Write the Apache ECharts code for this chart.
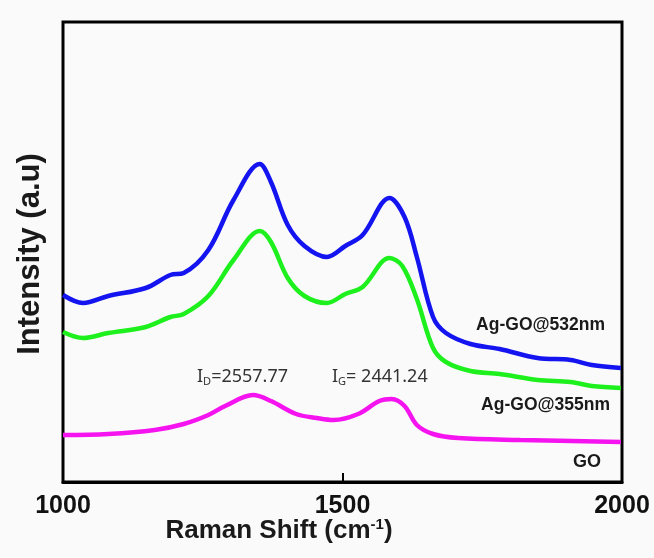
<!DOCTYPE html>
<html>
<head>
<meta charset="utf-8">
<script src="https://cdn.jsdelivr.net/npm/echarts@6/dist/echarts.min.js"></script>
<style>
  html, body { margin: 0; padding: 0; background: #fafafa; }
  #chart { width: 654px; height: 558px; }
</style>
</head>
<body>
<div id="chart"></div>
<script>
// Raman shift (cm-1) and intensity (a.u.)
const blueX = [1000, 1036, 1081, 1148, 1192, 1216, 1260, 1305, 1352, 1372, 1402, 1432, 1472, 1505, 1536, 1584, 1611, 1633, 1662, 1685, 1729, 1781, 1849, 1908, 1946, 1998]
const blueY = [187, 179, 186, 194, 207, 209, 232, 282, 318, 300, 257, 236, 225, 236, 247, 284, 265, 225, 165, 149, 138, 133, 124, 122, 117, 114]

const greenX = [1000, 1036, 1081, 1148, 1192, 1216, 1260, 1305, 1352, 1372, 1402, 1432, 1472, 1505, 1536, 1584, 1607, 1633, 1662, 1685, 1729, 1781, 1849, 1908, 1946, 1998]
const greenY = [150, 144, 149, 155, 165, 168, 186, 222, 251, 240, 204, 186, 179, 188, 195, 224, 216, 183, 134, 120, 111, 108, 102, 100, 96, 94]

const goX = [1000, 1081, 1164, 1216, 1260, 1290, 1340, 1372, 1417, 1454, 1484, 1528, 1566, 1588, 1611, 1633, 1662, 1707, 1818, 1998]
const goY = [47, 48, 52, 58, 67, 76, 87, 81, 68, 64, 62, 68, 81, 83, 76, 57, 48, 44, 42, 40]

const xTicks = [1000, 1500, 2000]

const pairs = (xs, ys) => xs.map((x, i) => [x, ys[i]])

const chart = echarts.init(document.getElementById('chart'))

const lineSeries = (name, xs, ys, color) => ({
  name: name,
  type: 'line',
  data: pairs(xs, ys),
  smooth: 0.35,
  symbol: 'none',
  lineStyle: { color: color, width: 4.5 },
  z: 3
})

const boldLabel = { fontFamily: 'Liberation Sans, Arial', fontWeight: 'bold', fill: '#1a1a1a' }

chart.setOption({
  backgroundColor: '#fafafa',
  animation: false,
  grid: {
    left: 63, right: 32, top: 22, bottom: 76,
    show: true, borderColor: '#000', borderWidth: 3
  },
  xAxis: {
    type: 'value',
    min: xTicks[0],
    max: xTicks[xTicks.length - 1],
    interval: 500,
    axisLine: { show: true, lineStyle: { color: '#000', width: 3 } },
    axisTick: { show: true, inside: true, length: 9, lineStyle: { color: '#000', width: 2 } },
    axisLabel: {
      color: '#111', fontSize: 25, fontWeight: 'bold',
      fontFamily: 'Liberation Sans, Arial', margin: 12,
      formatter: v => String(v)
    },
    splitLine: { show: false }
  },
  yAxis: {
    type: 'value',
    min: 0,
    max: 460,
    show: false
  },
  series: [
    lineSeries('Ag-GO@532nm', blueX, blueY, '#1414f0'),
    lineSeries('Ag-GO@355nm', greenX, greenY, '#1ef01e'),
    lineSeries('GO', goX, goY, '#f514f0')
  ],
  graphic: [
    {
      type: 'text', x: 30, y: 254, rotation: Math.PI / 2,
      style: Object.assign({ text: 'Intensity (a.u)', fontSize: 31, align: 'center', verticalAlign: 'middle' }, boldLabel)
    },
    {
      type: 'text', x: 279, y: 531,
      style: {
        text: '{t|Raman Shift (cm}{s|-1}{t|)}',
        align: 'center', verticalAlign: 'middle',
        rich: {
          t: { fontSize: 26, fontWeight: 'bold', fontFamily: 'Liberation Sans, Arial', fill: '#1a1a1a' },
          s: { fontSize: 15, fontWeight: 'bold', fontFamily: 'Liberation Sans, Arial', fill: '#1a1a1a', verticalAlign: 'top', padding: [0, 0, 12, 0] }
        }
      }
    },
    {
      type: 'text', x: 605, y: 325,
      style: Object.assign({ text: 'Ag-GO@532nm', fontSize: 17.5, align: 'right', verticalAlign: 'middle' }, boldLabel)
    },
    {
      type: 'text', x: 610, y: 405,
      style: Object.assign({ text: 'Ag-GO@355nm', fontSize: 17.5, align: 'right', verticalAlign: 'middle' }, boldLabel)
    },
    {
      type: 'text', x: 601, y: 462,
      style: Object.assign({ text: 'GO', fontSize: 18, align: 'right', verticalAlign: 'middle' }, boldLabel)
    },
    {
      type: 'text', x: 197, y: 377,
      style: {
        text: '{t|I}{s|D}{t|=2557.77}',
        verticalAlign: 'middle',
        rich: {
          t: { fontSize: 18, fontFamily: 'Noto Sans, Open Sans', fill: '#333' },
          s: { fontSize: 11, fontFamily: 'Noto Sans, Open Sans', fill: '#333', padding: [9, 0, 0, 0] }
        }
      }
    },
    {
      type: 'text', x: 332, y: 377,
      style: {
        text: '{t|I}{s|G}{t|= 2441.24}',
        verticalAlign: 'middle',
        rich: {
          t: { fontSize: 18, fontFamily: 'Noto Sans, Open Sans', fill: '#333' },
          s: { fontSize: 11, fontFamily: 'Noto Sans, Open Sans', fill: '#333', padding: [9, 0, 0, 0] }
        }
      }
    }
  ]
})
</script>
</body>
</html>
